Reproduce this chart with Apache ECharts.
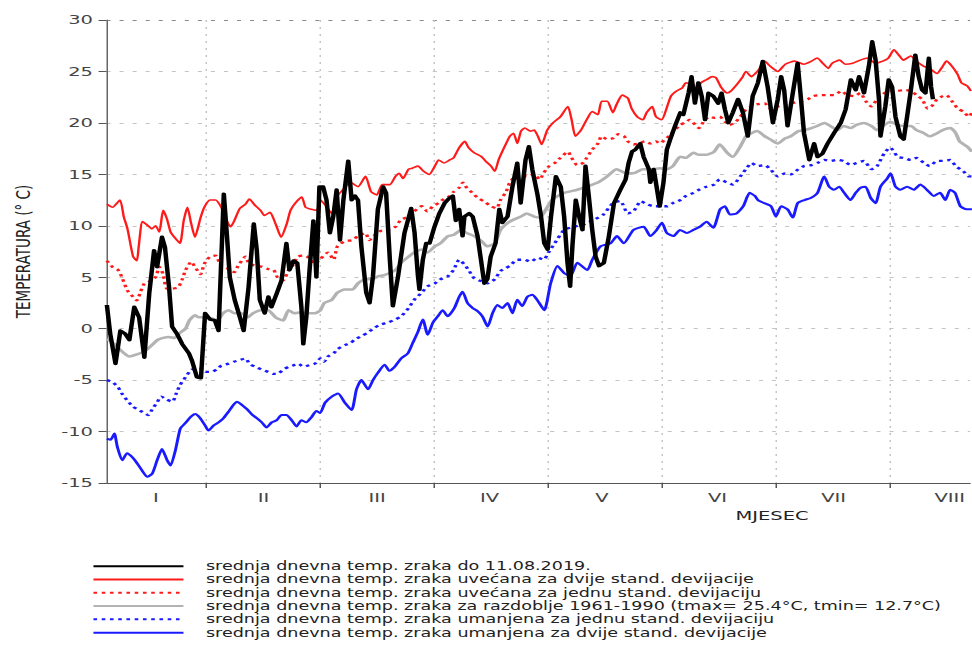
<!DOCTYPE html>
<html>
<head>
<meta charset="utf-8">
<script src="https://cdn.jsdelivr.net/npm/echarts@6/dist/echarts.min.js"></script>
<style>
html,body{margin:0;padding:0;background:#fff;overflow:hidden;}
#wrap{width:972px;height:663px;overflow:hidden;position:relative;}
#chart{width:648px;height:663px;transform:scaleX(1.5);transform-origin:0 0;}
</style>
</head>
<body>
<div id="wrap"><div id="chart"></div></div>
<script>
// x values are day-of-year (month = 365/12 days on the axis)
const monthTicks = [30.42, 60.83, 91.25, 121.67, 152.08, 182.5, 212.92];
const monthLabelDays = [17.1, 45.8, 76.1, 106.1, 136.1, 166.9, 197.9, 228.9];
const monthLabels = ['I', 'II', 'III', 'IV', 'V', 'VI', 'VII', 'VIII'];

const seriesNames = [
  'srednja dnevna temp. zraka do 11.08.2019.',
  'srednja dnevna temp. zraka uvećana za dvije stand. devijacije',
  'srednja dnevna temp. zraka uvećana za jednu stand. devijaciju',
  'srednja dnevna temp. zraka za razdoblje 1961-1990 (tmax= 25.4°C, tmin= 12.7°C)',
  'srednja dnevna temp. zraka umanjena za jednu stand. devijaciju',
  'srednja dnevna temp. zraka umanjena za dvije stand. devijacije'
];

const observed = [[4,2.3],[4.9,-0.5],[6.3,-3.4],[7.6,-0.2],[8.9,-0.5],[10,-1.1],[11.3,2.1],[12.6,1.1],[14,-2.8],[15.3,3.4],[16.6,7.6],[17.4,6.0],[18.7,8.9],[19.5,7.9],[20.6,4.0],[21.4,0.2],[22.7,-0.5],[24.1,-1.5],[25.9,-2.4],[26.7,-3.1],[28,-4.7],[29.1,-4.8],[30.2,1.5],[31.5,0.9],[32.8,0.8],[33.8,-0.2],[35.2,13.1],[36,9.2],[36.8,5.0],[38.1,2.8],[39.5,1.1],[40.5,-0.2],[41.8,4.0],[43.2,10.2],[44,7.6],[44.8,2.8],[46.1,1.5],[47.1,3.1],[47.9,2.1],[49.3,3.4],[50.6,4.7],[51.9,8.3],[52.7,5.7],[53.8,6.6],[54.8,6.4],[55.9,2.1],[56.4,-1.5],[57.2,1.1],[58,5.3],[59.1,10.5],[59.9,5.0],[60.7,13.8],[61.7,13.8],[62.6,12.5],[63.5,9.3],[64.4,10.9],[65.3,13.5],[66.2,8.6],[67.1,12.5],[68.4,16.3],[69.3,12.5],[70.2,12.9],[71,12.5],[71.9,8.0],[73.2,3.5],[74.1,2.5],[75,5.1],[76.3,11.6],[77.7,13.8],[78.5,13.2],[79.5,6.7],[80.3,2.2],[81.7,5.1],[83.4,9.3],[85.2,11.7],[86.1,9.3],[87,5.1],[87.4,3.8],[88.3,6.7],[89.2,8.3],[90.1,8.3],[91.4,9.9],[92.7,11.2],[94.1,12.2],[95.4,12.7],[96.3,12.9],[97.1,10.5],[98,11.6],[98.9,9.0],[99.4,10.9],[100.7,11.2],[101.6,10.9],[102.9,9.0],[103.8,6.7],[104.7,4.4],[105.5,4.8],[106.4,7.0],[107.7,8.3],[108.7,11.6],[109.5,10.3],[110.9,10.9],[112.2,13.8],[113.5,16.1],[114.4,12.2],[115.7,16.4],[116.6,17.7],[117.5,15.5],[118.9,13.0],[119.8,11.0],[120.7,8.3],[121.6,7.7],[122.5,10.9],[123.8,14.8],[125.1,13.8],[126,10.9],[126.9,6.4],[127.6,4.1],[128.2,8.0],[129.1,12.5],[130,10.9],[130.9,9.6],[131.7,15.8],[132.6,12.8],[133.5,9.6],[134.4,7.0],[135.3,6.1],[136.6,6.4],[137.9,8.9],[139.3,12.2],[141,13.5],[142.4,14.5],[143.2,16.1],[144.1,17.2],[145,17.4],[146.3,18.0],[147.2,16.7],[148.6,15.5],[149,14.2],[149.9,15.5],[150.8,13.5],[151.5,11.9],[152.5,14.2],[153.4,17.4],[154.3,18.4],[155.6,19.7],[157,21.0],[157.8,20.8],[159.2,22.9],[160,24.5],[160.9,21.9],[161.8,23.9],[162.7,22.6],[163.6,20.3],[164.5,22.9],[165.8,22.6],[167.1,21.9],[168,22.9],[168.9,21.3],[169.8,20.0],[171,21.0],[172.4,22.3],[173.7,21.0],[175,18.7],[176.3,22.6],[177.7,23.9],[179,26.0],[180.3,23.5],[181.7,20.0],[183,22.3],[183.9,24.5],[184.7,23.2],[185.6,19.7],[187,22.9],[188.3,25.8],[189.2,22.3],[190,19.0],[191.4,16.4],[192.7,18.0],[193.6,16.7],[194.9,17.0],[196.3,18.0],[198,19.0],[199.8,20.0],[201.1,21.3],[202.5,24.2],[203.8,23.2],[204.7,24.5],[206,22.9],[207.3,25.5],[208.2,27.9],[209.1,26.1],[210,22.3],[210.4,18.7],[211.7,21.6],[212.6,24.2],[213.5,23.5],[214.4,20.6],[215.7,18.7],[216.6,18.4],[217.5,20.6],[218.4,22.9],[219.7,26.6],[220.6,24.5],[221.5,23.2],[222.4,22.9],[223.3,26.3],[223.9,23.5],[224.4,22.3]];

const plus2sd = [[4,12.1],[5.5,11.8],[7.5,12.5],[8.5,10.9],[9.5,9.7],[11,7.0],[12,6.6],[12.5,8.0],[13.5,10.4],[15,10.0],[16,9.7],[17,10.0],[18,9.4],[19,11.5],[20,10.7],[21,9.4],[22,8.9],[23.5,8.3],[24.5,10.5],[25.5,11.8],[26.5,10.2],[27.5,8.9],[29,10.8],[30,11.8],[31.5,12.5],[33,12.5],[34.5,11.8],[36,10.5],[37,9.9],[38,10.5],[39.5,11.7],[41,12.1],[42,12.6],[43.5,12.0],[45,11.5],[46,11.0],[47.5,11.3],[49,10.2],[50.5,8.9],[52,10.2],[53,11.5],[54.5,12.3],[56,12.8],[57,11.8],[58.5,11.6],[60,11.5],[61,12.5],[62.5,11.9],[64,11.2],[65.5,12.9],[67,13.5],[69,14.2],[71,13.8],[73,14.8],[74.5,13.3],[76,13.0],[77.5,14.0],[79.5,14.0],[81,14.8],[82,15.1],[83,14.6],[84.5,15.5],[85.5,15.6],[87,15.8],[88.5,15.3],[90,15.0],[91.5,15.8],[92.5,16.4],[94,16.1],[95.5,16.4],[96.5,16.6],[98,17.6],[99.5,18.2],[100.5,17.6],[102,17.1],[104,16.7],[105,16.3],[106.5,15.8],[107.5,15.3],[108.5,16.4],[110,17.6],[111.5,18.7],[112.5,19.0],[113.5,18.0],[114.5,19.2],[115.5,19.5],[117,19.2],[118,19.3],[119,18.7],[120,17.9],[121.5,19.3],[123,20.0],[125,20.6],[127,21.6],[128,20.3],[129,18.7],[130.5,19.3],[132,20.3],[133.5,21.1],[135,20.8],[136,22.1],[137.5,22.1],[139,21.0],[140,21.8],[141.5,22.7],[143,22.4],[144,21.4],[145.5,20.6],[147,20.3],[148,21.0],[149.5,21.6],[150.5,20.6],[152,20.3],[153.5,21.6],[154.5,22.6],[156,23.1],[157.5,23.4],[158.5,23.9],[160,23.7],[161.5,23.2],[162.5,23.9],[164,24.2],[165.5,24.5],[166.5,24.4],[168,23.4],[169.5,22.9],[170.5,23.1],[172,23.7],[173.5,24.4],[174.5,25.0],[176,24.5],[177,24.8],[178,25.2],[179.5,26.0],[181,25.5],[183,25.0],[185,25.7],[187.5,26.0],[190,25.7],[192,26.0],[193.5,26.3],[195,25.8],[196.5,25.3],[197.5,25.8],[199.5,26.1],[201,25.7],[203,25.8],[205,26.1],[207,26.3],[209,25.8],[211,26.0],[212.5,26.3],[214,27.1],[215.5,26.5],[216.5,26.1],[218.5,26.5],[220,26.0],[222,25.5],[223.5,25.3],[225.5,24.8],[227,25.5],[228,26.0],[229.5,25.5],[231,24.7],[232,23.9],[233.5,23.6],[234.5,23.1]];

const plus1sd = [[4,6.6],[5.5,6.0],[7,5.7],[8,5.0],[9.5,3.7],[11,3.1],[12,2.75],[13,3.6],[14,4.4],[15,4.5],[17,5.0],[18,6.0],[19,5.3],[20,3.9],[21.5,3.9],[23,4.0],[24,4.7],[25,5.7],[26.5,6.5],[27.5,6.0],[29,5.3],[30,6.3],[31.5,7.0],[33,7.1],[34.5,6.1],[36.5,5.8],[38,5.5],[39,6.1],[41,7.0],[42,6.3],[44,6.1],[45.5,6.0],[47,5.8],[48.5,5.7],[49.5,5.0],[51,4.7],[52.5,5.7],[53.5,6.1],[55,7.0],[56.5,7.1],[57.5,7.0],[59.5,6.3],[61,6.8],[63,7.4],[64.5,6.7],[65.5,8.0],[67.5,8.5],[69.5,8.6],[71,9.0],[73,9.3],[74,8.6],[75.5,9.1],[77,9.5],[79,9.6],[81,9.9],[82.5,10.6],[84.5,10.9],[86,11.4],[88,11.9],[89.5,11.4],[91,11.9],[92.5,12.2],[93.5,12.5],[95.5,12.9],[96.5,13.3],[98,13.7],[99,14.2],[100,13.7],[101.5,13.2],[103,12.7],[104.5,12.4],[106.5,11.9],[108,11.7],[109,12.5],[110.5,13.3],[111.5,14.2],[113,14.8],[114.5,15.0],[116,14.8],[118,15.0],[119.5,14.5],[120.5,15.1],[122,15.8],[123.5,16.1],[125,16.6],[127,17.2],[128,16.6],[129.5,15.9],[131,16.1],[132,16.6],[133.5,17.4],[135,18.0],[136,18.7],[137.5,18.4],[139,18.5],[140.5,18.9],[142,18.7],[143,18.2],[144.5,17.9],[146,18.0],[147.5,18.2],[149,18.0],[150.5,18.2],[151.5,18.0],[153,18.4],[154.5,18.9],[155.5,19.3],[157,19.8],[158.5,20.1],[159.5,20.3],[161,19.8],[162,19.5],[163.5,20.3],[165,20.6],[166,20.5],[167.5,20.6],[169,20.1],[170,19.8],[171.5,20.0],[173,20.6],[174.5,21.3],[176,21.6],[177.5,21.8],[179.5,21.9],[181,21.4],[183,21.6],[185,21.8],[186.5,21.9],[189,22.1],[191,22.3],[192.5,22.6],[194.5,22.7],[196.5,22.7],[198,22.7],[200,23.1],[201.5,22.7],[203.5,22.6],[205,22.9],[206.5,22.1],[208,21.6],[209.5,22.3],[211.5,22.9],[213,23.1],[215,23.1],[216.5,23.2],[218.5,23.1],[220,22.7],[221.5,22.3],[223,21.4],[224,21.6],[225.5,22.3],[227,22.6],[228,22.7],[229.5,22.1],[231,21.4],[232.5,21.1],[234,20.6],[234.8,21.0]];

const mean6190 = [[4,-1.0],[6,-1.5],[8,-2.2],[10,-2.7],[12,-2.5],[14,-2.2],[16,-1.6],[17.5,-1.1],[19,-0.9],[20.5,-0.8],[22,-0.9],[23.5,-0.4],[25,0.0],[26,0.8],[27.5,1.3],[28.5,1.1],[30.5,1.1],[32,1.0],[33.5,0.8],[35,1.5],[36.5,1.8],[38,1.5],[40,1.5],[41.5,1.1],[43,1.5],[45,1.8],[47,1.8],[49,1.1],[51,0.8],[52.5,1.8],[54,1.5],[56,1.6],[57.5,1.5],[59.5,1.5],[61,1.8],[62,2.5],[64,2.8],[65.5,3.5],[67.5,3.8],[69.5,3.8],[71,4.4],[73,4.8],[74.5,4.8],[76.5,5.1],[78,5.2],[81,5.7],[82.5,6.4],[84.5,7.0],[86,7.4],[88,7.7],[89.5,7.4],[91.5,8.0],[93,8.3],[95,9.0],[96.5,9.1],[98.5,9.6],[100,9.3],[102,9.0],[104,8.5],[105.5,8.0],[107.5,8.3],[109,9.6],[111,10.3],[112.5,10.6],[114.5,10.9],[116,11.2],[118,10.9],[119.5,10.8],[121.5,11.8],[123,12.6],[126,13.2],[129.5,13.5],[132,13.8],[135,14.2],[137.5,14.8],[140,15.5],[142.5,15.1],[144.5,15.1],[147,15.5],[149.5,15.5],[151.5,15.6],[153.5,15.5],[155,15.8],[157,16.7],[158.5,16.6],[160.5,17.1],[162,16.9],[164,16.9],[166,17.2],[167.5,17.9],[169.5,17.1],[171,16.7],[173,17.7],[174.5,18.7],[176,19.0],[177.5,19.2],[179.5,18.7],[181,18.4],[183,18.0],[185,18.5],[186.5,18.7],[188.5,19.2],[190,19.3],[192,19.5],[193.5,19.7],[195.5,20.0],[197,19.7],[199,19.3],[200.5,19.7],[202.5,19.5],[204,19.8],[206,20.0],[208,19.7],[209.5,19.3],[211.5,19.8],[213,20.1],[215,19.8],[216.5,19.7],[218.5,19.7],[220,19.3],[222,19.0],[223.5,18.7],[225.5,19.0],[227,19.3],[229,19.5],[230.5,19.0],[231.5,18.2],[233.5,17.7],[234.8,17.2]];

const minus1sd = [[4,-5.0],[5.5,-5.2],[7,-5.7],[8,-6.3],[9.5,-7.0],[11,-7.6],[12,-7.8],[13.5,-8.1],[15,-8.4],[16,-7.9],[17.5,-7.1],[18.5,-6.6],[20,-6.9],[21.5,-7.1],[22.5,-6.3],[23.5,-5.5],[25,-4.7],[26.5,-4.0],[27.5,-3.9],[29.5,-3.9],[30.5,-4.2],[32,-4.2],[33.5,-3.9],[34.5,-3.6],[36.5,-3.4],[38,-3.2],[39,-3.1],[41,-2.9],[42,-3.4],[43.5,-3.7],[45.5,-4.0],[47,-4.2],[48.5,-4.4],[49.5,-4.4],[51,-4.0],[52.5,-3.7],[53.5,-3.6],[55,-3.4],[56.5,-3.7],[57.5,-3.6],[59.5,-3.4],[61,-2.9],[62,-3.2],[63,-2.7],[64.5,-2.4],[65.5,-2.0],[67.5,-1.6],[69,-1.4],[70,-1.1],[72,-0.7],[73.5,-0.4],[75.5,0.1],[77,0.4],[79,0.6],[81,0.9],[82.5,1.2],[84.5,2.0],[86,2.8],[88,3.5],[89.5,4.1],[91.5,4.4],[93,4.8],[95,5.1],[96.5,5.7],[98,6.7],[99.5,6.2],[100.5,5.7],[102,4.9],[104,4.6],[105.5,4.4],[107.5,4.8],[109,5.6],[110.5,5.9],[111.5,6.1],[113.5,6.7],[115.5,6.7],[117,6.5],[119,6.9],[120.5,6.7],[122,7.5],[123.5,8.3],[126,9.6],[128.5,9.9],[131,10.1],[134,10.6],[136.5,11.1],[139,12.2],[141,12.4],[143,11.2],[144.5,11.4],[146.5,12.4],[148,12.1],[150,11.9],[151.5,11.9],[153.5,11.9],[155,12.2],[157,12.5],[158.5,12.9],[160.5,13.2],[162,13.5],[164,13.8],[166,14.0],[167.5,14.5],[169.5,14.2],[171,14.0],[173,14.8],[174.5,15.5],[176,16.1],[177.5,15.8],[179.5,15.9],[181,15.5],[183,14.8],[185,15.1],[186.5,15.0],[188.5,15.5],[190,15.8],[192,15.9],[193.5,16.1],[195.5,16.4],[197,16.3],[199,16.4],[200.5,16.3],[202.5,15.9],[204,16.1],[206,16.3],[208,15.5],[209.5,15.8],[211.5,17.1],[213,17.6],[215,16.7],[216.5,16.6],[218.5,16.4],[220,16.6],[222,16.1],[223.5,15.8],[225.5,16.3],[227,16.3],[229,16.4],[230.5,15.8],[232.5,15.3],[234,14.8],[234.8,14.8]];

const minus2sd = [[4,-10.7],[5,-10.8],[6,-10.2],[6.8,-11.5],[8.1,-12.8],[9.4,-12.1],[10.8,-12.5],[12.1,-13.1],[13.4,-13.8],[14.8,-14.4],[16.1,-14.1],[17.4,-12.8],[18.7,-11.7],[20.1,-12.8],[21,-13.3],[22.3,-11.8],[23.6,-9.7],[24.9,-9.2],[26.3,-8.6],[27.6,-8.3],[28.9,-8.7],[30.2,-9.4],[31.1,-9.9],[32.5,-9.4],[33.8,-9.1],[35.1,-8.7],[36.4,-8.1],[37.8,-7.4],[38.7,-7.1],[40,-7.4],[41.3,-7.8],[42.6,-8.3],[44,-8.7],[45.3,-9.1],[46.6,-9.6],[48,-9.1],[49.3,-8.9],[50.6,-8.4],[51.9,-8.4],[53.3,-8.9],[54.6,-9.5],[55.9,-8.9],[57.2,-9.1],[58.6,-8.6],[59.9,-8.0],[60.9,-8.2],[62.2,-7.2],[64,-6.6],[65.7,-6.3],[67.5,-7.2],[69.3,-7.9],[70.6,-5.9],[71.9,-5.0],[73.7,-5.9],[75,-5.0],[76.3,-4.3],[78.1,-3.5],[79.4,-4.1],[80.8,-3.7],[82.5,-2.9],[84.3,-2.4],[85.6,-1.4],[87,-0.3],[88.3,0.9],[89.6,-0.6],[91,0.6],[92.3,1.2],[93.6,1.8],[94.9,1.2],[96.7,2.0],[98,3.1],[98.9,3.6],[100.2,2.5],[101.6,2.0],[102.9,1.7],[104.2,1.2],[105.6,0.2],[106.9,1.5],[108.2,2.3],[109.5,2.0],[110.9,2.5],[112.2,1.5],[113.5,2.8],[114.8,2.2],[116.2,3.1],[117.5,3.3],[118.8,2.8],[120.7,1.8],[122.4,4.4],[124.2,6.1],[126,5.4],[127.7,5.1],[129.5,6.4],[132.2,5.7],[133.5,6.7],[135.7,8.0],[138.4,8.3],[140.1,9.0],[141.9,8.3],[144.5,9.6],[147.2,9.9],[149,9.0],[150.7,9.6],[152.1,10.3],[153.4,9.3],[155.2,9.0],[156.9,9.6],[158.7,9.3],[160.5,9.6],[162.2,9.9],[164,10.4],[165.8,9.8],[167.6,11.6],[168.9,11.9],[170.2,11.1],[172,11.2],[173.8,11.9],[175.5,13.2],[176.9,12.9],[177.7,12.5],[179.4,12.2],[181.2,11.9],[182.5,10.9],[183.9,11.9],[185.6,11.6],[187,10.8],[188.3,12.2],[190.1,12.5],[191.8,12.7],[193.6,13.2],[195.4,14.8],[196.7,13.8],[198,13.5],[199.4,13.8],[200.7,13.2],[202.4,12.5],[203.8,13.2],[205.1,13.7],[206.4,13.8],[207.8,12.7],[209.1,12.2],[210.4,13.8],[212.2,14.6],[213.1,15.1],[214.4,13.8],[215.7,13.5],[217.5,13.8],[219.3,13.5],[221,14.0],[222.8,13.5],[224.6,12.9],[226.3,13.2],[227.7,12.5],[229,13.5],[230.3,13.2],[231.7,11.9],[233.4,11.6],[234.8,11.6]];

const chart = echarts.init(document.getElementById('chart'), null, {renderer: 'svg'});
const FONT = 'DejaVu Sans';

function mk(name, data, color, width, dash, smooth, z) {
  return {
    name: name, type: 'line', data: data, symbol: 'none', smooth: smooth, z: z,
    lineStyle: {color: color, width: width, type: dash, cap: 'butt', join: 'round'},
    itemStyle: {color: color}, emphasis: {disabled: true}, silent: true
  };
}

const gridColors = ['#c4c4c4','#c4c4c4','#c4c4c4','#c4c4c4','#c4c4c4','#c4c4c4','#c4c4c4','#c4c4c4','#c4c4c4','#8a8a8a'];

chart.setOption({
  animation: false,
  backgroundColor: '#fff',
  grid: {left: 68, top: 20, width: 578.7, height: 463, containLabel: false},
  xAxis: {
    type: 'value', min: 3.9, max: 234.3,
    axisLine: {show: true, onZero: false, lineStyle: {color: '#555', width: 1}},
    axisTick: {show: true, customValues: monthTicks, length: 5, lineStyle: {color: '#555'}},
    axisLabel: {
      customValues: monthLabelDays, margin: 8,
      fontFamily: FONT, fontSize: 13, color: '#444',
      formatter: function (v) {
        let best = 0, bd = 1e9;
        monthLabelDays.forEach(function (d, i) { if (Math.abs(d - v) < bd) { bd = Math.abs(d - v); best = i; } });
        return monthLabels[best];
      }
    },
    splitLine: {show: true, lineStyle: {color: '#c4c4c4', width: 1, type: [2, 5]}}
  },
  yAxis: {
    type: 'value', min: -15, max: 30, interval: 5,
    name: 'TEMPERATURA (° C)', nameLocation: 'middle', nameGap: 49, nameRotate: 90,
    nameTextStyle: {fontFamily: FONT, fontSize: 13.5, color: '#222'},
    axisLine: {show: true, lineStyle: {color: '#666', width: 1}},
    axisTick: {show: true, length: 5.3, lineStyle: {color: '#555'}},
    axisLabel: {fontFamily: FONT, fontSize: 13, color: '#444', margin: 9},
    splitLine: {show: true, lineStyle: {color: gridColors, width: 1, type: [2.7, 6]}}
  },
  legend: {
    orient: 'vertical', left: 56.3, top: 554.5,
    itemWidth: 60, itemHeight: 10, itemGap: 0,
    selectedMode: false,
    itemStyle: {opacity: 0},
    data: seriesNames,
    textStyle: {fontFamily: FONT, fontSize: 11.7, color: '#222', lineHeight: 13.3, padding: [0, 0, 0, 10]}
  },
  graphic: [{
    type: 'text', x: 514.7, y: 516, silent: true,
    style: {text: 'MJESEC', font: '13px "DejaVu Sans"', fill: '#222', textAlign: 'center', textVerticalAlign: 'middle'}
  }],
  series: [
    mk(seriesNames[0], observed, '#000000', 3, 'solid', false, 10),
    mk(seriesNames[1], plus2sd, '#ff1a1a', 1.6, 'solid', 0.2, 3),
    mk(seriesNames[2], plus1sd, '#ff1a1a', 2.3, [2.4, 3.1], 0.2, 3),
    mk(seriesNames[3], mean6190, '#b3b3b3', 2.5, 'solid', 0.2, 2),
    mk(seriesNames[4], minus1sd, '#1a1aff', 2.3, [2.4, 3.1], 0.2, 3),
    mk(seriesNames[5], minus2sd, '#1a1aff', 2, 'solid', 0.2, 3)
  ]
});
</script>
</body>
</html>
